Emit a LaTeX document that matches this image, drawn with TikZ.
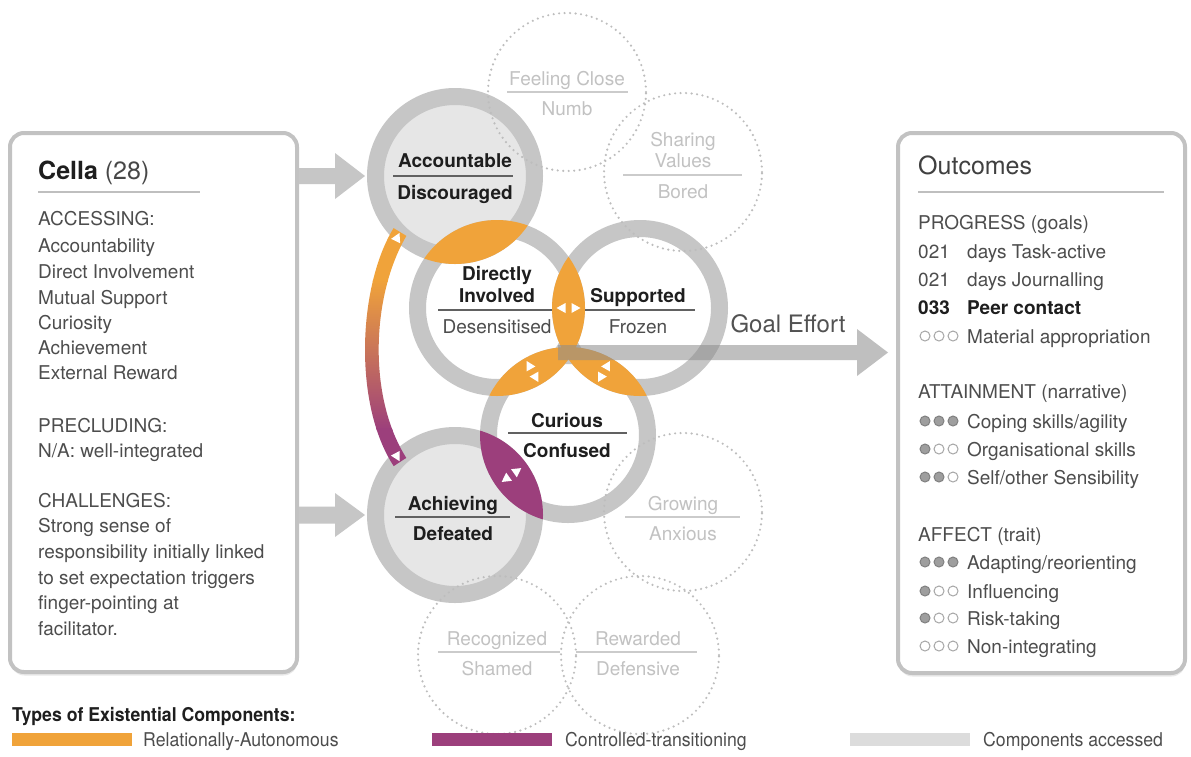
\documentclass[tikz,border=0pt]{standalone}
\usepackage{fontspec}
\setmainfont{TeX Gyre Heros}
\newfontfamily\condfont[FakeStretch=0.93]{TeX Gyre Heros}
\usetikzlibrary{calc,shadows}

\definecolor{ringgrey}{HTML}{C6C6C6}
\definecolor{fillgrey}{HTML}{E6E6E6}
\definecolor{orng}{HTML}{F0A33A}
\definecolor{purp}{HTML}{9C3F7C}
\definecolor{txt}{HTML}{4D4D4D}
\definecolor{dark}{HTML}{1E1E1E}
\definecolor{faint}{HTML}{C2C2C2}
\definecolor{faintdot}{HTML}{BDBDBD}
\definecolor{boxline}{HTML}{C2C2C2}

\newcommand\fs[1]{\fontsize{#1}{#1}\selectfont}
% small white triangle: centre point, unit direction
\newcommand\wtri[4]{\fill[white] ({#1+12*(#3)},{#2+12*(#4)}) -- ({#1+3*(#3)-5*(#4)},{#2+3*(#4)+5*(#3)}) -- ({#1+3*(#3)+5*(#4)},{#2+3*(#4)-5*(#3)}) -- cycle;}
\newcommand\lenspair[4]{\wtri{#1}{#2}{#3}{#4}\wtri{#1}{#2}{-(#3)}{-(#4)}}
% overlap of two ring discs
\newcommand\lens[3]{\begin{scope}\clip (#1.center) circle[radius=88pt];\fill[#3] (#2.center) circle[radius=88pt];\end{scope}}
% broad horizontal arrow: style, from, to, half shaft, half head, head length
\newcommand\fatarrow[6]{\fill[#1] ($(#2)+(0,-#4)$) -- ($(#3)+(-#6,-#4)$) -- ($(#3)+(-#6,-#5)$) -- (#3) -- ($(#3)+(-#6,#5)$) -- ($(#3)+(-#6,#4)$) -- ($(#2)+(0,#4)$) -- cycle;}
% three rating dots
\newcommand\rating[4]{\foreach \k/\s in {0/#2,1/#3,2/#4}{\draw[rate\s] ({925+14*\k},#1) circle[radius=5pt];}}

\begin{document}
\begin{tikzpicture}[x=1pt,y=-1pt,
  panel/.style={draw=boxline, line width=4, rounded corners=14, fill=white, inner sep=0,
    drop shadow={shadow xshift=0.5pt, shadow yshift=-3.5pt, opacity=0.18}},
  ring/.style={circle, draw=ringgrey, line width=17, minimum size=159, inner sep=0},
  accessed/.style={ring, fill=fillgrey},
  faintring/.style={circle, minimum size=158, inner sep=0, draw=faintdot, line width=2.4,
    dash pattern=on 0pt off 5.5pt, line cap=round},
  lbl/.style={font=\fs{19}\bfseries, text=dark, anchor=base, inner sep=0},
  sublbl/.style={font=\fs{19}, text=txt, anchor=base, inner sep=0},
  faintlbl/.style={font=\fs{19}, text=faint, anchor=base, inner sep=0},
  row/.style={font=\fs{19}, text=txt, anchor=base west, inner sep=0},
  boldrow/.style={row, font=\fs{19}\bfseries, text=dark},
  rule/.style={draw=black!62, line width=1.2},
  faintrule/.style={draw=faint!85, line width=1.2},
  sep/.style={draw=black!25, line width=1.2},
  feed/.style={fill=ringgrey},
  goal/.style={fill=black!45, opacity=0.55},
  rate1/.style={fill=black!38, draw=black!50, line width=1},
  rate0/.style={fill=white, draw=black!35, line width=1},
  swatch/.style={minimum width=120, minimum height=13, inner sep=0},
  legtext/.style={font=\condfont\fs{19}, text=txt, anchor=base west, inner sep=0}]

\useasboundingbox (0,0) rectangle (1191,756);
\fill[white] (0,0) rectangle (1191,756);

% side panels
\node[panel, minimum width=287, minimum height=539] (lbox) at (153.5,402.5) {};
\node[panel, minimum width=287, minimum height=540] (rbox) at (1041.5,403) {};

% rings of the existential components
\node[accessed] (acc) at (455,176) {};
\node[accessed] (ach) at (455,515) {};
\node[ring] (di)  at (497,308) {};
\node[ring] (sup) at (640,308) {};
\node[ring] (cur) at (568,435) {};

% components not accessed
\node[faintring] (feel)   at (567,92) {};
\node[faintring] (share)  at (683,172) {};
\node[faintring] (grow)   at (683,512) {};
\node[faintring] (recog)  at (497,655) {};
\node[faintring] (reward) at (640,655) {};

\node[faintlbl] (feelA) at (567,85) {Feeling Close};
\draw[faintrule] (507,92) -- (628,92);
\node[faintlbl] (feelB) at (567,115) {Numb};
\node[faintlbl] (shareA) at (683,146) {Sharing};
\node[faintlbl] (shareB) at (683,167) {Values};
\draw[faintrule] (623,175) -- (742,175);
\node[faintlbl] (shareC) at (683,198) {Bored};
\node[faintlbl] (growA) at (683,510) {Growing};
\draw[faintrule] (625,517) -- (740,517);
\node[faintlbl] (growB) at (683,540) {Anxious};
\node[faintlbl] (recogA) at (497,645) {Recognized};
\draw[faintrule] (438,652) -- (560,652);
\node[faintlbl] (recogB) at (497,675) {Shamed};
\node[faintlbl] (rewardA) at (638,645) {Rewarded};
\draw[faintrule] (576,652) -- (697,652);
\node[faintlbl] (rewardB) at (638,675) {Defensive};

% labels of the accessed components
\node[lbl] (accA) at (455,167) {Accountable};
\draw[rule] (393,176) -- (513,176);
\node[lbl] (accB) at (455,199) {Discouraged};
\node[lbl] (diA) at (497,280) {Directly};
\node[lbl] (diB) at (497,302) {Involved};
\draw[rule] (438,310) -- (695,310);
\node[sublbl] (diC) at (497,333) {Desensitised};
\node[lbl] (supA) at (638,302) {Supported};
\node[sublbl] (supB) at (638,333) {Frozen};
\node[lbl] (curA) at (567,427) {Curious};
\draw[rule] (508,433) -- (627,433);
\node[lbl] (curB) at (567,457) {Confused};
\node[lbl] (achA) at (453,510) {Achieving};
\draw[rule] (395,517) -- (510,517);
\node[lbl] (achB) at (453,540) {Defeated};

% overlaps
\lens{acc}{di}{orng}
\lens{di}{sup}{orng}
\lens{di}{cur}{orng}
\lens{sup}{cur}{orng}
\lens{cur}{ach}{purp}
\lenspair{568.5}{308}{1}{0}
\lenspair{532.5}{371.5}{0.488}{0.873}
\lenspair{604}{371.5}{-0.493}{0.870}
\lenspair{511.5}{475}{-0.816}{0.578}

% transition band between Accountable and Achieving
\begin{scope}
  \clip (393.6,228.1) .. controls (358,286) and (353,404) .. (393.7,466.1)
     -- (406.3,457.9) .. controls (367,396) and (372,294) .. (406.4,235.9) -- cycle;
  \fill[orng] (330,200) rectangle (440,282);
  \shade[top color=orng, bottom color=purp] (330,280) rectangle (440,430);
  \fill[purp] (330,428) rectangle (440,480);
\end{scope}
\wtri{394.3}{243.7}{0.435}{-0.9}
\wtri{393.9}{450.6}{0.47}{0.88}

% feeds from the profile panel
\coordinate (f1s) at (lbox.east |- acc.center);
\coordinate (f1e) at ($(acc.center)+(-90,0)$);
\fatarrow{feed}{f1s}{f1e}{8}{23}{30}
\coordinate (f2s) at (lbox.east |- ach.center);
\coordinate (f2e) at ($(ach.center)+(-90,0)$);
\fatarrow{feed}{f2s}{f2e}{8.5}{22}{30}

% goal effort
\coordinate (ge0) at (558,352.5);
\coordinate (ge1) at ($(rbox.west |- ge0)+(-8,0)$);
\fatarrow{goal}{ge0}{ge1}{7.5}{23.5}{31}
\node[font=\fs{24}, text=black!68, anchor=base, inner sep=0] (goaltxt) at (788,332) {Goal Effort};

% profile panel
\node[row, font=\fs{25}, text=black!72] (cella) at (38,179) {\textbf{\color{dark}Cella} (28)};
\draw[sep] (38,192) -- (200,192);
\node[row] (l1) at (38,225) {ACCESSING:};
\node[row] (l2) at (38,252) {Accountability};
\node[row] (l3) at (38,278) {Direct Involvement};
\node[row] (l4) at (38,304) {Mutual Support};
\node[row] (l5) at (38,329) {Curiosity};
\node[row] (l6) at (38,354) {Achievement};
\node[row] (l7) at (38,379) {External Reward};
\node[row] (l8) at (38,432) {PRECLUDING:};
\node[row] (l9) at (38,457) {N/A: well-integrated};
\node[row] (l10) at (38,507) {CHALLENGES:};
\node[row] (l11) at (38,532) {Strong sense of};
\node[row] (l12) at (38,558) {responsibility initially linked};
\node[row] (l13) at (38,584) {to set expectation triggers};
\node[row] (l14) at (38,609) {finger-pointing at};
\node[row] (l15) at (38,635) {facilitator.};

% outcomes panel
\node[row, font=\fs{25}, text=black!75] (outc) at (918,174) {Outcomes};
\draw[sep] (918,192) -- (1164,192);
\node[row] (r1) at (918,229) {PROGRESS (goals)};
\node[row] (r2n) at (918,258) {021};
\node[row] (r2) at (967,258) {days Task-active};
\node[row] (r3n) at (918,286) {021};
\node[row] (r3) at (967,286) {days Journalling};
\node[boldrow] (r4n) at (918,314) {033};
\node[boldrow] (r4) at (967,314) {Peer contact};
\rating{336}{0}{0}{0}
\node[row] (r5) at (967,343) {Material appropriation};
\node[row] (r6) at (918,398) {ATTAINMENT (narrative)};
\rating{421}{1}{1}{1}
\node[row] (r7) at (967,428) {Coping skills/agility};
\rating{449}{1}{0}{0}
\node[row] (r8) at (967,456) {Organisational skills};
\rating{477}{1}{1}{0}
\node[row] (r9) at (967,484) {Self/other Sensibility};
\node[row] (r10) at (918,541) {AFFECT (trait)};
\rating{562}{1}{1}{1}
\node[row] (r11) at (967,569) {Adapting/reorienting};
\rating{591}{1}{0}{0}
\node[row] (r12) at (967,598) {Influencing};
\rating{618}{1}{0}{0}
\node[row] (r13) at (967,625) {Risk-taking};
\rating{646}{0}{0}{0}
\node[row] (r14) at (967,653) {Non-integrating};

% legend
\node[legtext, font=\condfont\fs{19}\bfseries, text=dark] (legt) at (12,721) {Types of Existential Components:};
\node[swatch, fill=orng] (sw1) at (72,739.5) {};
\node[legtext] (lg1) at (143,746) {Relationally-Autonomous};
\node[swatch, fill=purp] (sw2) at (492,739.5) {};
\node[legtext] (lg2) at (565,746) {Controlled-transitioning};
\node[swatch, fill=fillgrey!70!ringgrey] (sw3) at (910,739.5) {};
\node[legtext] (lg3) at (983,746) {Components accessed};
\end{tikzpicture}
\end{document}
